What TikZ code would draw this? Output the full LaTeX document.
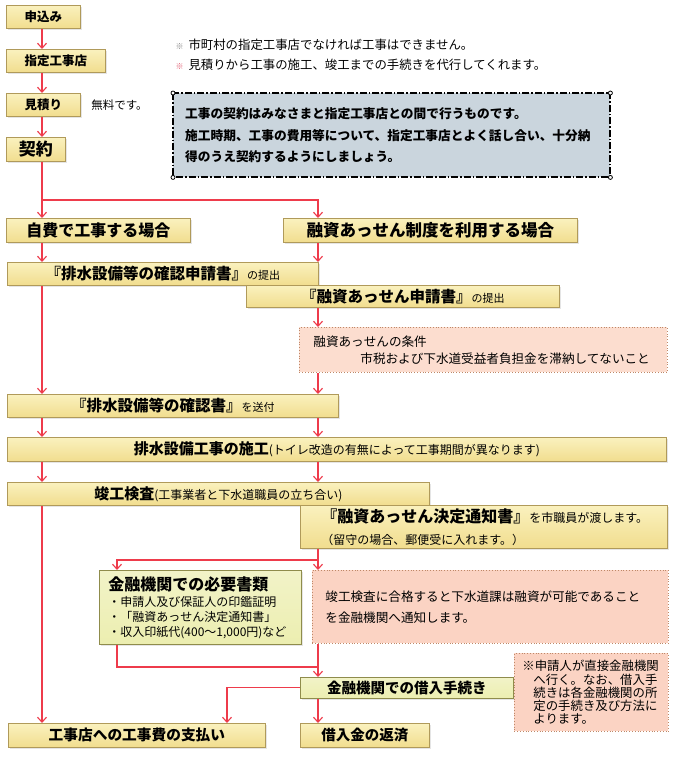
\documentclass[tikz,border=0pt]{standalone}
\usepackage{fontspec}
\setmainfont{Noto Sans CJK JP}
\usetikzlibrary{arrows.meta,positioning,shadows}
\definecolor{flowred}{HTML}{EE3B4B}
\definecolor{boxtop}{HTML}{FAF1BE}
\definecolor{boxbot}{HTML}{F1DD8E}
\definecolor{boxedge}{HTML}{B09A5A}
\definecolor{limefill}{HTML}{ECEEB0}
\definecolor{limeedge}{HTML}{8F8C4C}
\definecolor{pinkfill}{HTML}{FBD3C3}
\definecolor{pinklite}{HTML}{FCDDCF}
\definecolor{pinkedge}{HTML}{BE8868}
\definecolor{blueslate}{HTML}{CAD5DD}
\definecolor{asterisk}{HTML}{E0566A}

\begin{document}
\begin{tikzpicture}[x=1pt,y=-1pt,
  >={Straight Barb[length=5pt,width=9pt]},
  flow/.style={->,draw=flowred,line width=1.1pt},
  ybox/.style={draw=boxedge,top color=boxtop,bottom color=boxbot,line width=0.8pt,
    anchor=north west,inner sep=0pt,font=\bfseries\fontsize{12.5}{14}\selectfont,
    drop shadow={shadow xshift=1.2pt,shadow yshift=-1.2pt,fill=black!20}},
  lbox/.style={ybox,top color=limefill!70!white,bottom color=limefill,draw=limeedge},
  pbox/.style={draw=pinkedge,fill=pinkfill,line width=0.8pt,dotted,anchor=north west,
    inner ysep=0pt,align=left,font=\fontsize{12.6}{21}\selectfont}]
  % page
  \fill[white] (0,0) rectangle (680,761);
  \useasboundingbox (0,0) rectangle (680,761);
  % guide columns
  \coordinate (L) at (42,0);
  \coordinate (R) at (318,0);
  \coordinate (M) at (117,0);
  \coordinate (P) at (227,0);

  % first steps
  \node[ybox,minimum width=74pt,minimum height=23pt] (apply) at (6,5) {申込み};
  \node[ybox,minimum width=99pt,minimum height=23pt] (shitei) at (6,49) {指定工事店};
  \node[ybox,minimum width=74pt,minimum height=23pt] (mitsumori) at (6,93) {見積り};
  \node[right=7pt of mitsumori,font=\fontsize{11.5}{13}\selectfont] (free) {無料です。};
  \node[ybox,minimum width=59pt,minimum height=24pt,font=\bfseries\fontsize{17}{19}\selectfont] (keiyaku) at (6,137) {契約};

  % notes at the top
  \node[anchor=west,font=\fontsize{12.4}{14}\selectfont] (note1) at (172,45)
    {{\color{gray}\fontsize{8}{8}\selectfont ※}\hspace{5pt}市町村の指定工事店でなければ工事はできません。};
  \node[anchor=west,font=\fontsize{12.4}{14}\selectfont] (note2) at (172,65)
    {{\color{asterisk}\fontsize{8}{8}\selectfont ※}\hspace{5pt}見積りから工事の施工、竣工までの手続きを代行してくれます。};
  \node[anchor=north west,fill=blueslate,minimum width=437pt,minimum height=84pt,
    inner xsep=12pt,inner ysep=0pt,text width=413pt,align=left,
    font=\bfseries\fontsize{12.7}{21.5}\selectfont] (contract) at (173,93)
    {工事の契約はみなさまと指定工事店との間で行うものです。\\
     施工時期、工事の費用等について、指定工事店とよく話し合い、十分納\\
     得のうえ契約するようにしましょう。};
  \draw[line width=2pt,dash pattern=on 7pt off 2pt on 1.5pt off 2pt]
    (contract.north west) rectangle (contract.south east);
  \foreach \c in {north west,north east,south west,south east}
    \draw[fill=white,line width=0.8pt] (contract.\c) circle (2pt);

  % two cases
  \node[ybox,minimum width=184pt,minimum height=24pt,font=\bfseries\fontsize{16}{18}\selectfont] (jihi) at (6,218) {自費で工事する場合};
  \node[ybox,minimum width=294pt,minimum height=24pt,font=\bfseries\fontsize{16.5}{18}\selectfont] (yuushi) at (283,218) {融資あっせん制度を利用する場合};

  % applications
  \node[ybox,minimum width=311pt,minimum height=23pt] (kakuninshinsei) at (7,262)
    {{\fontsize{15.5}{17}\selectfont 『排水設備等の確認申請書』}{\mdseries\fontsize{11}{13}\selectfont の提出}};
  \node[ybox,minimum width=313pt,minimum height=22pt] (yuushishinsei) at (246,285)
    {{\fontsize{15.5}{17}\selectfont 『融資あっせん申請書』}{\mdseries\fontsize{11}{13}\selectfont の提出}};
  \node[pbox,fill=pinklite,minimum width=368pt,minimum height=45pt,inner xsep=14pt,
    text width=340pt,font=\fontsize{12.6}{17}\selectfont] (jouken) at (299,327)
    {融資あっせんの条件\\
     \hspace*{47pt}市税および下水道受益者負担金を滞納してないこと};

  % works
  \node[ybox,minimum width=331pt,minimum height=23pt] (kakuninsho) at (7,394)
    {{\fontsize{15.5}{17}\selectfont 『排水設備等の確認書』}{\mdseries\fontsize{11}{13}\selectfont を送付}};
  \node[ybox,minimum width=659pt,minimum height=24pt] (sekou) at (7,437)
    {{\fontsize{15}{17}\selectfont 排水設備工事の施工}{\mdseries\fontsize{12}{14}\selectfont (トイレ改造の有無によって工事期間が異なります)}};
  \node[ybox,minimum width=422pt,minimum height=23pt] (shunkou) at (7,482)
    {{\fontsize{15}{17}\selectfont 竣工検査}{\mdseries\fontsize{12}{14}\selectfont (工事業者と下水道職員の立ち合い)}};
  \node[ybox,minimum width=367pt,minimum height=43pt,inner xsep=21pt,text width=325pt,
    align=left,font=\fontsize{12}{22}\selectfont] (kettei) at (300,505)
    {{\bfseries\fontsize{16}{18}\selectfont 『融資あっせん決定通知書』}を市職員が渡します。\\
     （留守の場合、郵便受に入れます。）};

  % loan
  \node[lbox,minimum width=202pt,minimum height=74pt,inner xsep=9pt,text width=184pt,
    align=left,font=\fontsize{12}{15}\selectfont] (hitsuyou) at (99,570)
    {{\bfseries\fontsize{16}{18}\selectfont 金融機関での必要書類}\\[1pt]
     ・申請人及び保証人の印鑑証明\\
     ・「融資あっせん決定通知書」\\
     ・収入印紙代(400〜1,000円)など};
  \node[pbox,minimum width=356pt,minimum height=73pt,inner xsep=13pt,text width=330pt] (goukaku) at (312,570)
    {竣工検査に合格すると下水道課は融資が可能であること\\
     を金融機関へ通知します。};
  \node[lbox,minimum width=213pt,minimum height=21pt,font=\bfseries\fontsize{14.5}{16}\selectfont] (kariire) at (300,677) {金融機関での借入手続き};
  \node[pbox,minimum width=154pt,minimum height=78pt,inner xsep=8pt,text width=138pt,
    font=\fontsize{12.4}{13.2}\selectfont] (sokkou) at (514,653)
    {※申請人が直接金融機関\\
     \hspace*{11pt}へ行く。なお、借入手\\
     \hspace*{11pt}続きは各金融機関の所\\
     \hspace*{11pt}定の手続き及び方法に\\
     \hspace*{11pt}よります。};

  % last steps
  \node[ybox,minimum width=257pt,minimum height=24pt,font=\bfseries\fontsize{14.7}{16}\selectfont] (shiharai) at (8,723) {工事店への工事費の支払い};
  \node[ybox,minimum width=129pt,minimum height=24pt,font=\bfseries\fontsize{14.5}{16}\selectfont] (hensai) at (300,723) {借入金の返済};

  % connectors
  \draw[flow] (apply.south -| L) -- (shitei.north -| L);
  \draw[flow] (shitei.south -| L) -- (mitsumori.north -| L);
  \draw[flow] (mitsumori.south -| L) -- (keiyaku.north -| L);
  \draw[flow] (keiyaku.south -| L) -- (jihi.north -| L);
  \coordinate (split1) at (42,200);
  \draw[flow] (split1) -| (yuushi.north -| R);
  \draw[flow] (jihi.south -| L) -- (kakuninshinsei.north -| L);
  \draw[flow] (yuushi.south -| R) -- (kakuninshinsei.north -| R);
  \draw[flow] (yuushishinsei.south -| R) -- (jouken.north -| R);
  \draw[flow] (kakuninshinsei.south -| L) -- (kakuninsho.north -| L);
  \draw[flow] (jouken.south -| R) -- (kakuninsho.north -| R);
  \draw[flow] (kakuninsho.south -| L) -- (sekou.north -| L);
  \draw[flow] (kakuninsho.south -| R) -- (sekou.north -| R);
  \draw[flow] (sekou.south -| L) -- (shunkou.north -| L);
  \draw[flow] (sekou.south -| R) -- (shunkou.north -| R);
  \draw[flow] (shunkou.south -| L) -- (shiharai.north -| L);
  \draw[flow] (kettei.south -| R) -- (goukaku.north -| R);
  \coordinate (split2) at (318,560);
  \draw[flow] (split2) -| (hitsuyou.north -| M);
  \coordinate (join) at (318,667);
  \draw[draw=flowred,line width=1.1pt] (hitsuyou.south -| M) |- (join);
  \draw[flow] (goukaku.south -| R) -- (kariire.north -| R);
  \draw[flow] (kariire.west) -| (shiharai.north -| P);
  \draw[flow] (kariire.south -| R) -- (hensai.north -| R);
\end{tikzpicture}
\end{document}
